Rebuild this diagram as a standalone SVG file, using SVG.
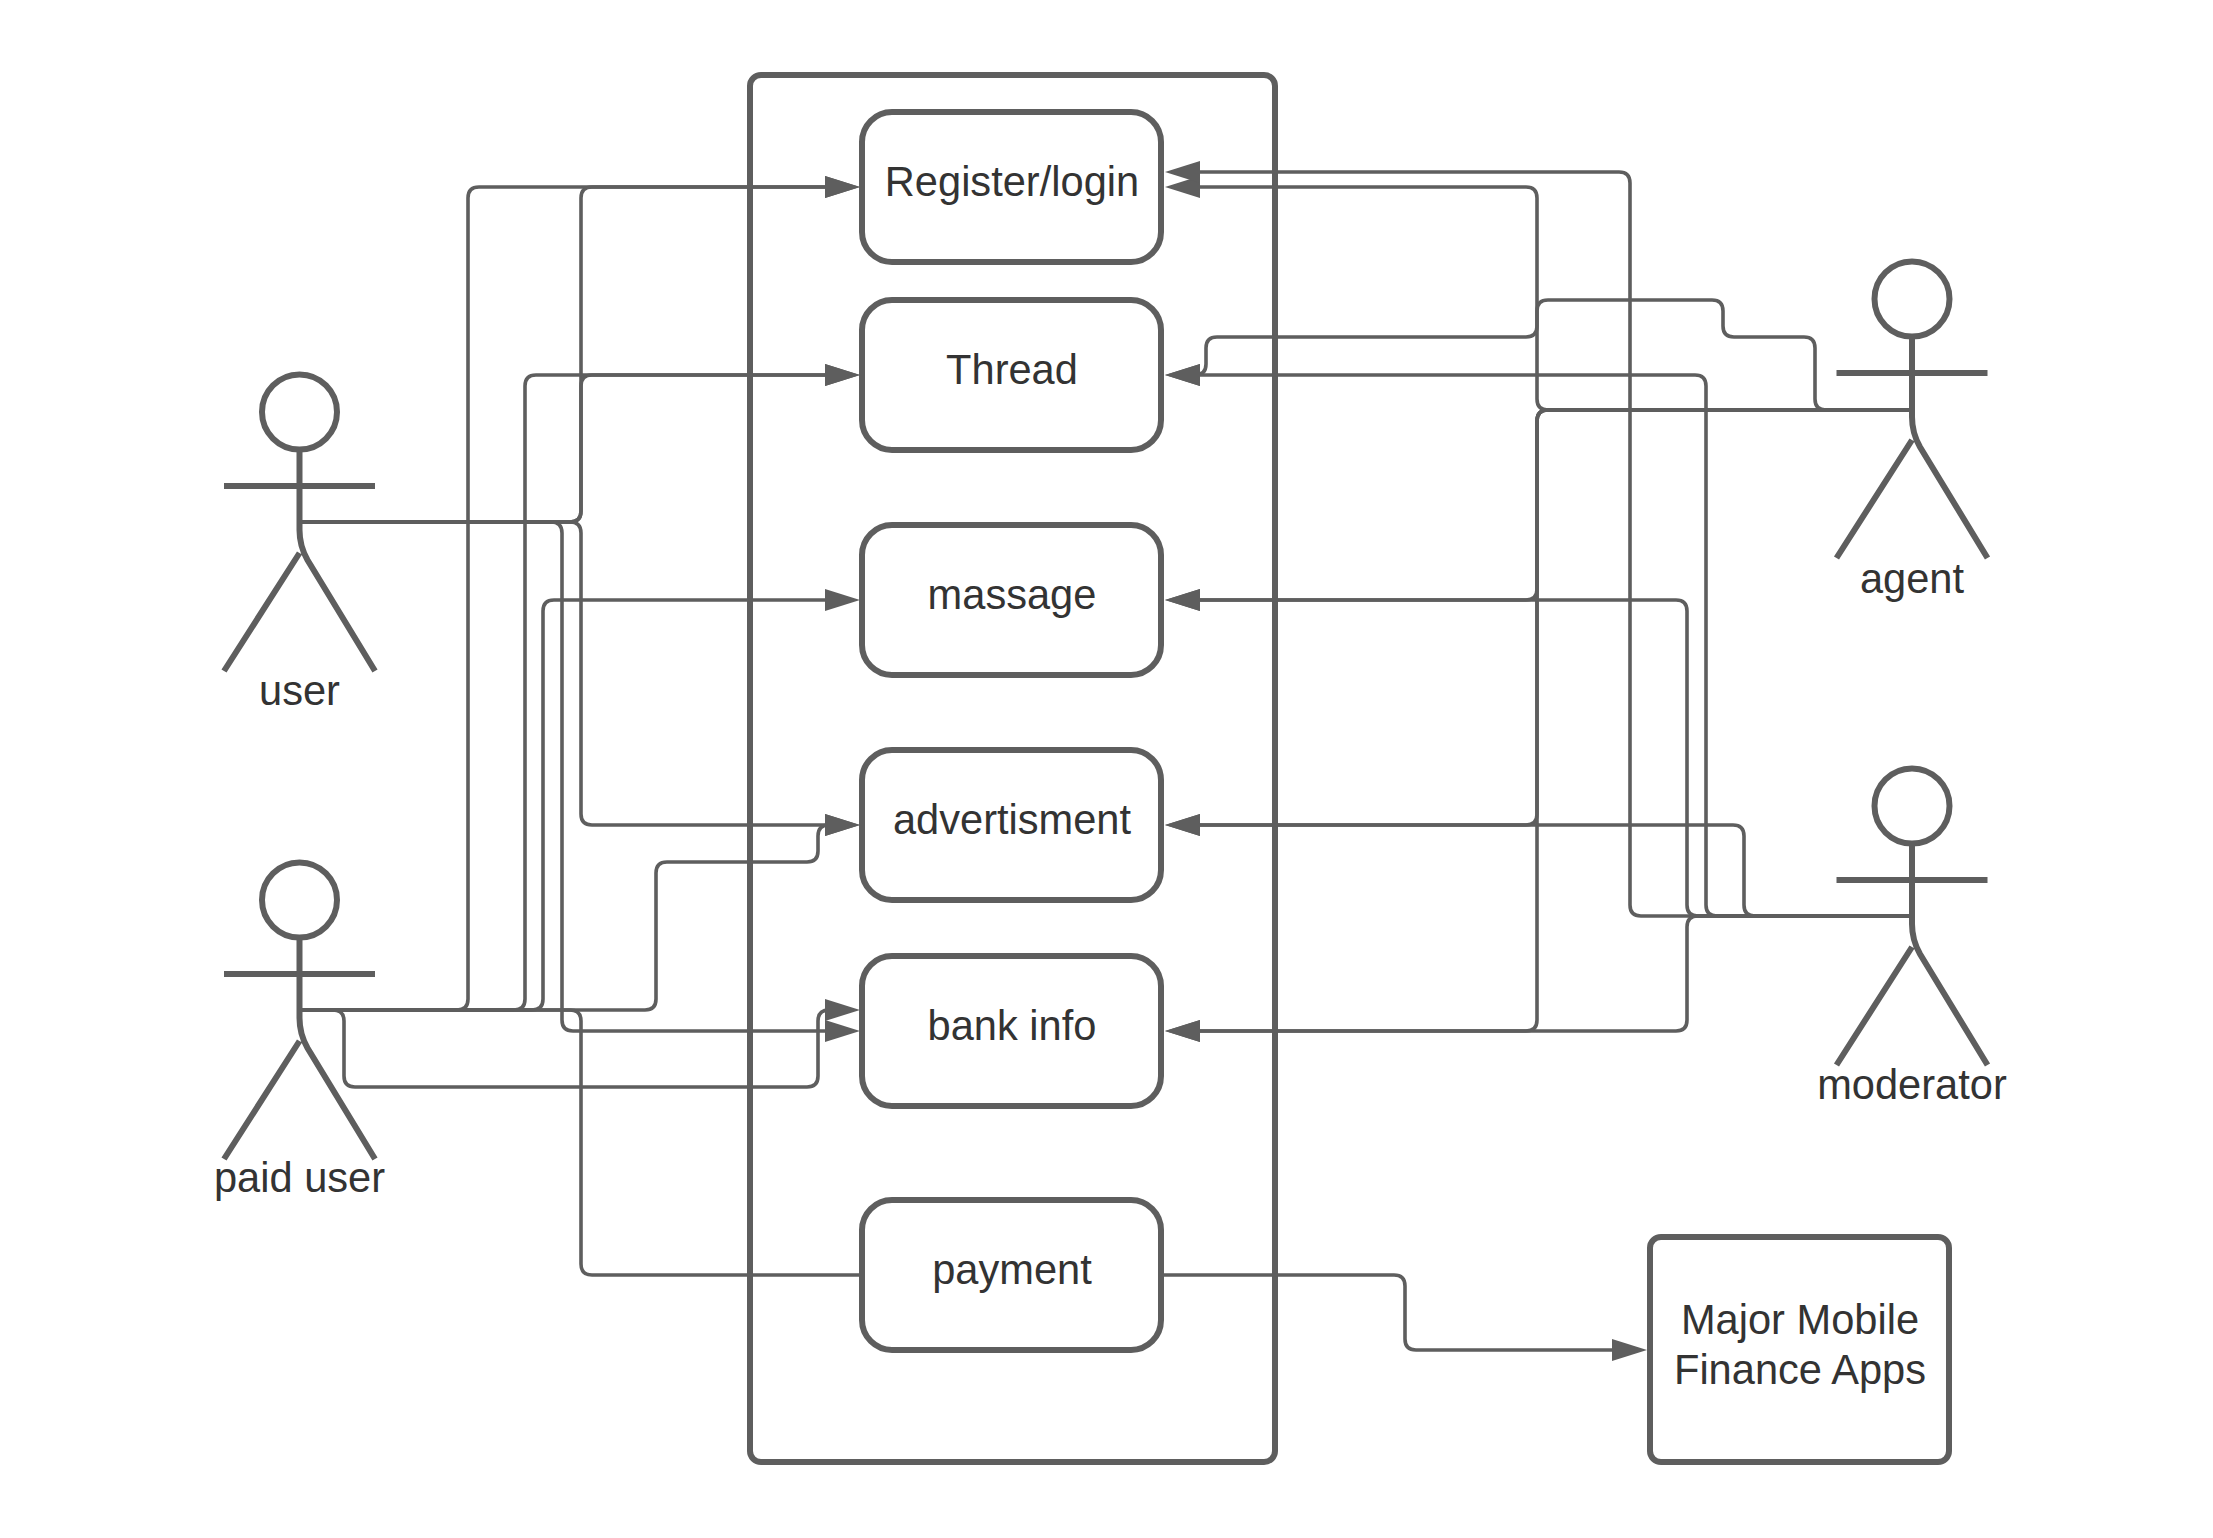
<svg xmlns="http://www.w3.org/2000/svg" width="2213" height="1538" viewBox="0 0 2213 1538">
<style>
text{font-family:"Liberation Sans",Arial,sans-serif;font-size:41.6px;fill:#333333;text-anchor:middle}
.box{fill:#ffffff;stroke:#5e5e5e;stroke-width:6}
.frame{fill:none;stroke:#5e5e5e;stroke-width:6}
.fig{fill:none;stroke:#5e5e5e;stroke-width:6}
.c{fill:none;stroke:#5e5e5e;stroke-width:3.6}
.a{marker-end:url(#arrow)}
</style>
<defs>
<marker id="arrow" markerUnits="userSpaceOnUse" markerWidth="36" markerHeight="24" refX="10" refY="11" orient="auto"><path d="M0 0L35 11L0 22Z" fill="#5e5e5e"/></marker>
<g id="stick"><circle cx="0" cy="0" r="37.5" fill="#fff"/><path d="M0 38V118Q0 134 8 148L75.500 259M-75.500 259L0 141M-75.500 74H75.500"/></g>
</defs>
<rect id="system" class="frame" x="750" y="75" width="525" height="1387" rx="11"/>
<g id="connectors">
<path class="c a" d="M302 522H570Q581 522 581 511V198Q581 187 592 187H835"/>
<path class="c a" d="M302 522H570Q581 522 581 511V386Q581 375 592 375H835"/>
<path class="c a" d="M302 522H570Q581 522 581 533V814Q581 825 592 825H835"/>
<path class="c a" d="M302 522H551Q562 522 562 533V1020Q562 1031 573 1031H835"/>
<path class="c a" d="M302 1010H457Q468 1010 468 999V198Q468 187 479 187H835"/>
<path class="c a" d="M302 1010H514Q525 1010 525 999V386Q525 375 536 375H835"/>
<path class="c a" d="M302 1010H532Q543 1010 543 999V611Q543 600 554 600H835"/>
<path class="c a" d="M302 1010H645Q656 1010 656 999V873Q656 862 667 862H807Q818 862 818 851V836Q818 825 829 825H835"/>
<path class="c a" d="M302 1010H333Q344 1010 344 1021V1076Q344 1087 355 1087H807Q818 1087 818 1076V1021Q818 1010 829 1010H835"/>
<path class="c" d="M302 1010H570Q581 1010 581 1021V1264Q581 1275 592 1275H862"/>
<path class="c a" d="M1912 410H1548Q1537 410 1537 399V198Q1537 187 1526 187H1190"/>
<path class="c a" d="M1912 410H1826Q1815 410 1815 399V348Q1815 337 1804 337H1734Q1723 337 1723 326V311Q1723 300 1712 300H1548Q1537 300 1537 311V326Q1537 337 1526 337H1217Q1206 337 1206 348V364Q1206 375 1195 375H1190"/>
<path class="c a" d="M1912 410H1548Q1537 410 1537 421V589Q1537 600 1526 600H1190"/>
<path class="c a" d="M1912 410H1548Q1537 410 1537 421V814Q1537 825 1526 825H1190"/>
<path class="c a" d="M1912 410H1548Q1537 410 1537 421V1020Q1537 1031 1526 1031H1190"/>
<path class="c a" d="M1912 916H1641Q1630 916 1630 905V183Q1630 172 1619 172H1190"/>
<path class="c a" d="M1912 916H1717Q1706 916 1706 905V386Q1706 375 1695 375H1190"/>
<path class="c a" d="M1912 916H1698Q1687 916 1687 905V611Q1687 600 1676 600H1190"/>
<path class="c a" d="M1912 916H1755Q1744 916 1744 905V836Q1744 825 1733 825H1190"/>
<path class="c a" d="M1912 916H1698Q1687 916 1687 927V1020Q1687 1031 1676 1031H1190"/>
<path class="c a" d="M1161 1275H1394Q1405 1275 1405 1286V1339Q1405 1350 1416 1350H1622"/>
</g>
<g id="register"><rect class="box" x="862" y="112" width="299" height="150" rx="30"/><text x="1012" y="196">Register/login</text></g>
<g id="thread"><rect class="box" x="862" y="300" width="299" height="150" rx="30"/><text x="1012" y="384">Thread</text></g>
<g id="massage"><rect class="box" x="862" y="525" width="299" height="150" rx="30"/><text x="1012" y="609">massage</text></g>
<g id="advertisment"><rect class="box" x="862" y="750" width="299" height="150" rx="30"/><text x="1012" y="834">advertisment</text></g>
<g id="bank-info"><rect class="box" x="862" y="956" width="299" height="150" rx="30"/><text x="1012" y="1040">bank info</text></g>
<g id="payment"><rect class="box" x="862" y="1200" width="299" height="150" rx="30"/><text x="1012" y="1284">payment</text></g>
<g id="major-apps"><rect class="box" x="1650" y="1237" width="299" height="225" rx="11"/><text x="1800" y="1334">Major Mobile</text><text x="1800" y="1384">Finance Apps</text></g>
<g id="user"><use href="#stick" class="fig" x="299.500" y="412"/><text x="299.500" y="705">user</text></g>
<g id="paid-user"><use href="#stick" class="fig" x="299.500" y="900"/><text x="299.500" y="1192">paid user</text></g>
<g id="agent"><use href="#stick" class="fig" x="1912" y="299"/><text x="1912" y="593">agent</text></g>
<g id="moderator"><use href="#stick" class="fig" x="1912" y="806"/><text x="1912" y="1099">moderator</text></g>
</svg>
